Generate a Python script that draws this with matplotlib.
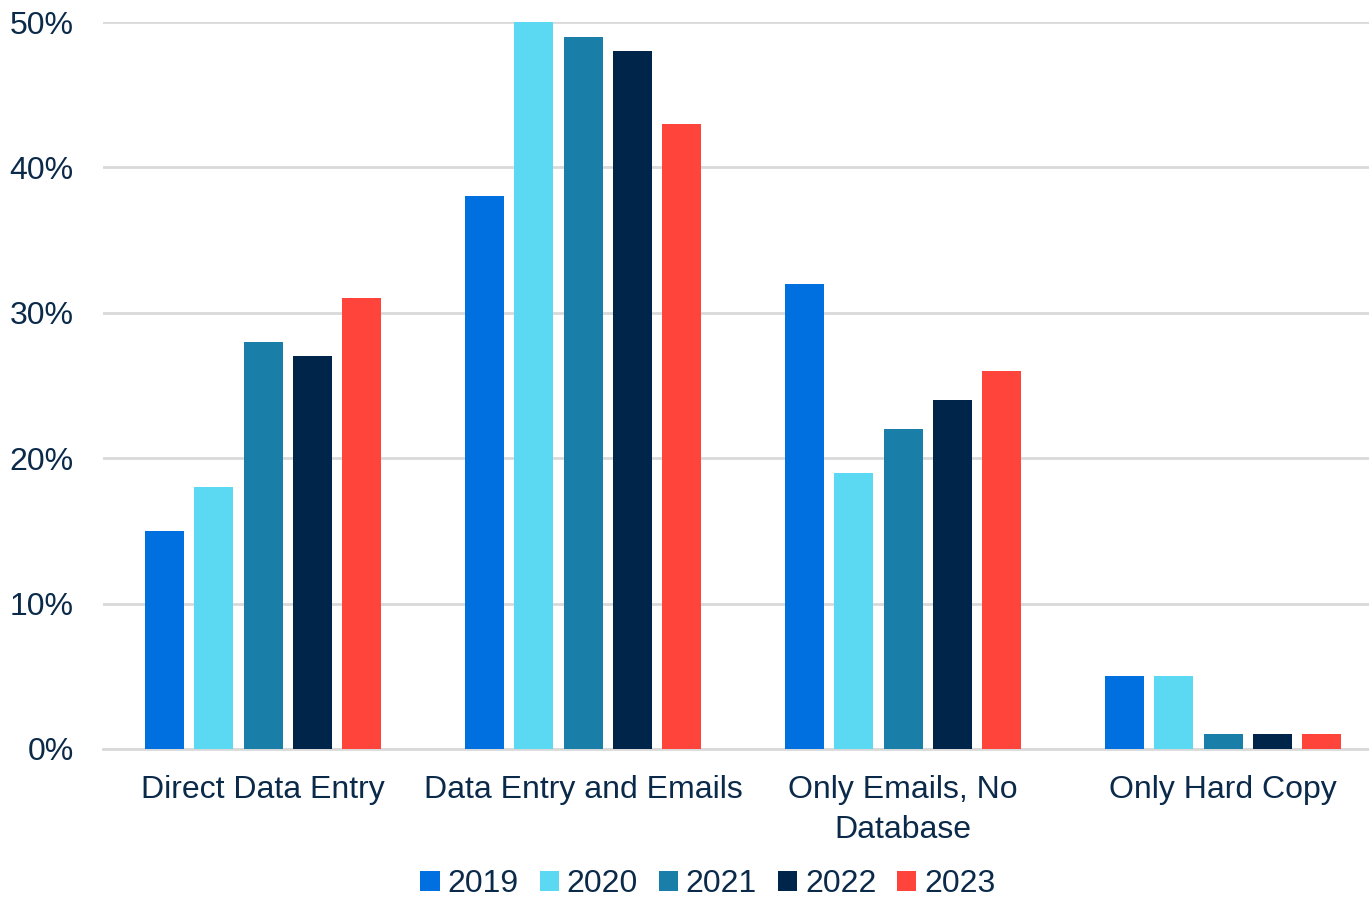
import matplotlib.pyplot as plt
import numpy as np

categories = ['Direct Data Entry', 'Data Entry and Emails', 'Only Emails, No\nDatabase', 'Only Hard Copy']
years = ['2019', '2020', '2021', '2022', '2023']
v2019 = [15, 38, 32, 5]
v2020 = [18, 50, 19, 5]
v2021 = [28, 49, 22, 1]
v2022 = [27, 48, 24, 1]
v2023 = [31, 43, 26, 1]
colors = ['#0070E0', '#5BD8F2', '#1A7FA8', '#00254B', '#FF443B']

plt.rcParams['font.family'] = ['Liberation Sans', 'DejaVu Sans']
txt = '#0B2A4A'

fig = plt.figure(figsize=(13.69, 8.98), dpi=100)
ax = fig.add_axes([103/1369, 149/898, 1266/1369, 727/898])

x = np.arange(len(categories))
series = [v2019, v2020, v2021, v2022, v2023]
w = 39/320
step = 49.3/320
for i, (vals, c, y) in enumerate(zip(series, colors, years)):
    ax.bar(x + (i - 2) * step, vals, w, color=c, label=y, zorder=3)

ax.set_ylim(0, 50)
ax.set_xlim(-0.5, -0.5 + 1266/320)
ax.set_yticks(range(0, 51, 10))
ax.set_yticklabels([f'{t}%' for t in range(0, 51, 10)])
ax.set_xticks(x)
ax.set_xticklabels(categories, linespacing=1.45)
ax.tick_params(axis='y', length=0, pad=21, labelsize=23, labelcolor=txt)
ax.tick_params(axis='x', length=0, pad=18.5, labelsize=23, labelcolor=txt)
ax.grid(axis='y', color='#D9D9D9', linewidth=2, zorder=0)
for s in ['top', 'right', 'left']:
    ax.spines[s].set_visible(False)
ax.spines['bottom'].set_color('#D9D9D9')
ax.spines['bottom'].set_linewidth(2)

leg = fig.legend(loc='center', bbox_to_anchor=(708/1369, 1 - 884/898), ncol=5,
                 frameon=False, fontsize=23, handlelength=0.6, handleheight=0.6,
                 handletextpad=0.25, columnspacing=0.65, labelcolor=txt)

fig.savefig('out.png', dpi=100)
